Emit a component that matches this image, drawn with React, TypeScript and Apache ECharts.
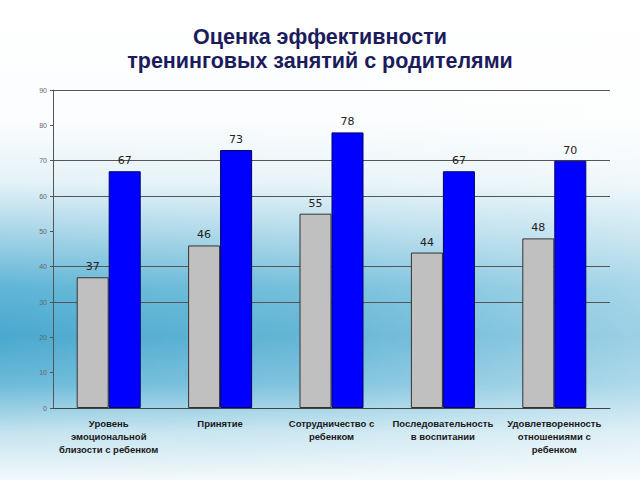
import React, { useEffect, useRef } from "react";
import * as echarts from "echarts";

const categories = [
  "Уровень\nэмоциональной\nблизости с ребенком",
  "Принятие",
  "Сотрудничество с\nребенком",
  "Последовательность\nв воспитании",
  "Удовлетворенность\nотношениями с\nребенком",
];
const before = [37, 46, 55, 44, 48];
const after = [67, 73, 78, 67, 70];
const visibleGridLines = [30, 40, 60, 70, 90];

export default function App() {
  const ref = useRef<HTMLDivElement>(null);
  useEffect(() => {
    document.body.style.margin = "0";
    const chart = echarts.init(ref.current!, null, { renderer: "svg" });
    chart.setOption({
      animation: false,
      title: {
        text: "Оценка эффективности\nтренинговых занятий с родителями",
        left: "center",
        top: 20,
        textStyle: {
          fontFamily: "Liberation Sans, Arial, sans-serif",
          fontSize: 21.5,
          fontWeight: "bold",
          color: "#1c1c5c",
          lineHeight: 24,
        },
      },
      grid: { left: 53, right: 30, top: 90, bottom: 72 },
      xAxis: {
        type: "category",
        data: categories,
        axisLine: { lineStyle: { color: "#444", width: 1 } },
        axisTick: { show: false },
        axisLabel: {
          interval: 0,
          margin: 9,
          fontFamily: "Liberation Sans, Arial, sans-serif",
          fontSize: 9.5,
          fontWeight: "bold",
          color: "#1a1a1a",
          lineHeight: 13,
        },
      },
      yAxis: {
        type: "value",
        min: 0,
        max: 90,
        interval: 10,
        axisLine: { show: true, lineStyle: { color: "#555", width: 1 } },
        axisTick: { show: true, length: 3, lineStyle: { color: "#555" } },
        splitLine: { show: false },
        axisLabel: {
          margin: 6,
          fontFamily: "Liberation Sans, Arial, sans-serif",
          fontSize: 7,
          color: "#666",
        },
      },
      series: [
        {
          type: "bar",
          data: before,
          barWidth: 32,
          barGap: "0%",
          itemStyle: { color: "#c0c0c0", borderColor: "#333", borderWidth: 1 },
          label: {
            show: true,
            position: "top",
            distance: 5,
            fontFamily: "DejaVu Sans, sans-serif",
            fontSize: 11,
            color: "#222",
          },
          markLine: {
            silent: true,
            symbol: "none",
            label: { show: false },
            lineStyle: { color: "#555", type: "solid", width: 1 },
            data: visibleGridLines.map((v) => ({ yAxis: v })),
            z: 0,
          },
          z: 3,
        },
        {
          type: "bar",
          data: after,
          barWidth: 32,
          itemStyle: { color: "#0000ff", borderColor: "#000066", borderWidth: 1 },
          label: {
            show: true,
            position: "top",
            distance: 5,
            fontFamily: "DejaVu Sans, sans-serif",
            fontSize: 11,
            color: "#222",
          },
          z: 3,
        },
      ],
    });
    return () => chart.dispose();
  }, []);
  return (
    <div
      style={{
        position: "fixed",
        left: 0,
        top: 0,
        width: 640,
        height: 480,
        background:
          "linear-gradient(to right, rgba(255,255,255,0) 0%, rgba(255,255,255,0.15) 50%, rgba(255,255,255,0.45) 100%), linear-gradient(to bottom, #ffffff 0%, #fbfdfe 25%, #e4f2f8 38%, #a9d6e8 48%, #5fb5d6 60%, #4aa9cf 70%, #6cbad9 80%, #c4e3ef 90%, #f2f9fc 100%)",
      }}
    >
      <div ref={ref} style={{ width: 640, height: 480 }} />
    </div>
  );
}
